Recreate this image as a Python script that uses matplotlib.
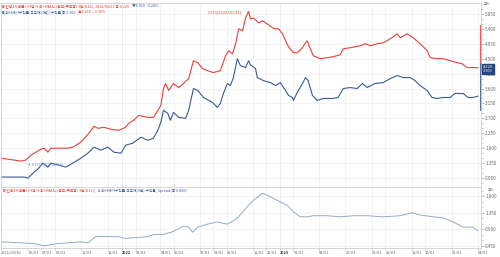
import matplotlib
matplotlib.use("Agg")
import matplotlib.pyplot as plt
import matplotlib.dates as mdates
import matplotlib.transforms as mtrans
from matplotlib.ticker import FixedLocator, AutoMinorLocator
import pandas as pd

plt.rcParams['font.family'] = ['Noto Sans CJK KR', 'DejaVu Sans']

# --- data ---
red_dates = ['2021-03-30', '2021-05-15', '2021-05-26', '2021-06-07', '2021-06-30', '2021-07-07',
             '2021-07-16', '2021-07-23', '2021-08-31', '2021-09-11', '2021-09-30', '2021-10-18',
             '2021-10-30', '2021-11-08', '2021-11-22', '2021-12-08', '2021-12-26', '2022-01-11',
             '2022-01-18', '2022-01-29', '2022-02-10', '2022-03-03', '2022-03-16', '2022-03-26',
             '2022-04-02', '2022-04-08', '2022-04-13', '2022-04-20', '2022-05-01', '2022-05-13',
             '2022-05-24', '2022-06-05', '2022-06-16', '2022-06-26', '2022-07-07', '2022-07-18',
             '2022-08-01', '2022-08-17', '2022-08-29', '2022-09-05', '2022-09-14', '2022-09-21',
             '2022-09-28', '2022-10-07', '2022-10-14', '2022-10-21', '2022-10-25', '2022-11-01',
             '2022-11-13', '2022-11-22', '2022-12-03', '2022-12-15', '2022-12-22', '2022-12-29',
             '2023-01-07', '2023-01-14', '2023-01-21', '2023-02-01', '2023-02-10', '2023-02-22',
             '2023-03-01', '2023-03-05', '2023-03-10', '2023-03-19', '2023-04-04', '2023-04-20',
             '2023-05-04', '2023-05-20', '2023-05-27', '2023-06-12', '2023-07-05', '2023-07-16',
             '2023-07-28', '2023-08-13', '2023-08-27', '2023-09-12', '2023-09-28', '2023-10-05',
             '2023-10-21', '2023-11-04', '2023-11-20', '2023-12-06', '2023-12-13', '2023-12-29',
             '2024-01-12', '2024-01-28', '2024-02-13', '2024-02-24', '2024-03-07', '2024-03-20',
             '2024-04-01']
red_vals = [1.50, 1.41, 1.44, 1.59, 1.77, 1.80, 1.68, 1.80, 1.80, 1.83, 1.98, 2.25,
            2.46, 2.40, 2.43, 2.37, 2.34, 2.43, 2.55, 2.64, 2.79, 2.73, 2.73, 2.94,
            3.09, 3.60, 3.75, 3.54, 3.75, 3.63, 3.75, 3.90, 4.44, 4.38, 4.20, 4.14,
            4.08, 4.14, 4.59, 4.74, 4.65, 4.95, 5.40, 5.34, 5.73, 5.919, 5.70, 5.73,
            5.58, 5.64, 5.55, 5.43, 5.40, 5.40, 5.25, 5.04, 4.86, 4.68, 4.68, 4.83,
            4.98, 5.04, 4.86, 4.59, 4.50, 4.53, 4.56, 4.62, 4.80, 4.83, 4.89, 4.95,
            4.89, 4.95, 4.98, 5.10, 5.25, 5.13, 5.25, 5.13, 4.95, 4.74, 4.53, 4.50,
            4.50, 4.44, 4.38, 4.35, 4.23, 4.23, 4.229]

blue_dates = ['2021-03-30', '2021-04-29', '2021-05-22', '2021-05-31', '2021-06-12', '2021-06-25',
              '2021-07-04', '2021-07-16', '2021-07-23', '2021-08-10', '2021-08-26', '2021-09-11',
              '2021-09-30', '2021-10-16', '2021-10-30', '2021-11-15', '2021-12-01', '2021-12-15',
              '2021-12-31', '2022-01-11', '2022-01-27', '2022-02-15', '2022-03-03', '2022-03-16',
              '2022-03-26', '2022-04-02', '2022-04-08', '2022-04-18', '2022-04-24', '2022-05-01',
              '2022-05-13', '2022-05-29', '2022-06-05', '2022-06-16', '2022-06-26', '2022-07-09',
              '2022-07-30', '2022-08-10', '2022-08-17', '2022-08-24', '2022-09-02', '2022-09-09',
              '2022-09-16', '2022-09-25', '2022-10-02', '2022-10-14', '2022-10-21', '2022-10-25',
              '2022-11-06', '2022-11-10', '2022-11-24', '2022-12-10', '2022-12-22', '2023-01-02',
              '2023-01-14', '2023-01-21', '2023-01-30', '2023-02-01', '2023-02-10', '2023-02-22',
              '2023-03-01', '2023-03-07', '2023-03-17', '2023-03-28', '2023-04-11', '2023-05-02',
              '2023-05-15', '2023-05-27', '2023-06-12', '2023-06-28', '2023-07-10', '2023-07-21',
              '2023-08-08', '2023-08-27', '2023-09-12', '2023-09-28', '2023-10-12', '2023-10-28',
              '2023-11-08', '2023-11-20', '2023-12-06', '2023-12-17', '2023-12-29', '2024-01-12',
              '2024-01-28', '2024-02-08', '2024-02-27', '2024-03-09', '2024-03-20', '2024-04-01']
blue_vals = [0.93, 0.93, 0.93, 0.90, 1.05, 1.20, 1.35, 1.23, 1.35, 1.29, 1.23, 1.35,
             1.50, 1.65, 1.83, 1.74, 1.83, 1.68, 1.65, 1.89, 1.95, 2.13, 2.04, 2.10,
             2.34, 2.58, 2.94, 2.85, 2.64, 2.88, 2.73, 2.70, 2.94, 3.60, 3.54, 3.33,
             3.18, 3.03, 3.15, 3.45, 3.75, 3.69, 3.93, 4.50, 4.29, 4.23, 4.44, 4.32,
             4.20, 3.93, 3.84, 3.78, 3.69, 3.78, 3.54, 3.39, 3.33, 3.24, 3.48, 3.75,
             3.93, 3.84, 3.39, 3.24, 3.30, 3.30, 3.33, 3.60, 3.63, 3.60, 3.75, 3.63,
             3.75, 3.78, 3.90, 3.99, 3.93, 3.93, 3.84, 3.69, 3.54, 3.33, 3.30, 3.33,
             3.33, 3.45, 3.45, 3.33, 3.33, 3.369]

spread_dates = ['2021-03-30', '2021-05-15', '2021-06-14', '2021-07-07', '2021-08-08', '2021-08-31',
                '2021-09-30', '2021-10-16', '2021-11-03', '2021-12-01', '2021-12-24', '2022-01-11',
                '2022-01-29', '2022-03-03', '2022-03-16', '2022-04-08', '2022-05-01', '2022-05-22',
                '2022-06-03', '2022-06-14', '2022-06-26', '2022-07-18', '2022-08-10', '2022-09-02',
                '2022-09-16', '2022-09-28', '2022-10-18', '2022-11-01', '2022-11-22', '2022-12-03',
                '2022-12-26', '2023-01-18', '2023-02-01', '2023-02-17', '2023-03-05', '2023-03-19',
                '2023-04-20', '2023-05-20', '2023-06-19', '2023-07-21', '2023-08-27', '2023-10-05',
                '2023-11-01', '2023-11-20', '2023-12-20', '2024-01-12', '2024-02-04', '2024-02-27',
                '2024-03-20', '2024-04-01']
spread_vals = [0.56, 0.53, 0.51, 0.45, 0.51, 0.53, 0.56, 0.53, 0.70, 0.70, 0.70, 0.65,
               0.67, 0.70, 0.76, 0.76, 0.84, 0.98, 0.98, 0.82, 0.96, 1.04, 1.10, 1.04,
               1.13, 1.24, 1.52, 1.69, 1.88, 1.83, 1.69, 1.55, 1.38, 1.24, 1.24, 1.27,
               1.27, 1.24, 1.27, 1.27, 1.24, 1.27, 1.35, 1.29, 1.24, 1.21, 1.10, 0.96,
               0.96, 0.86]

tick_dates = ['2021-03-30', '2021-06-01', '2021-07-01', '2021-08-02', '2021-10-01', '2021-12-01',
              '2022-01-03', '2022-02-03', '2022-04-01', '2022-05-02', '2022-07-01', '2022-08-01',
              '2022-09-01', '2022-11-01', '2022-12-01', '2023-01-02', '2023-02-01', '2023-04-01',
              '2023-06-01', '2023-08-01', '2023-09-01', '2023-11-01', '2023-12-01', '2024-02-01',
              '2024-04-01']
tick_labels = ['2021/03/30', '06/01', '07/01', '08/02', '10/01', '12/01', '2022', '02/03',
               '04/01', '05/02', '07/01', '08/01', '09/01', '11/01', '12/01', '2023', '02/01',
               '04/01', '06/01', '08/01', '09/01', '11/01', '12/01', '02/01', '04/01']

top_yticks = [0.9, 1.35, 1.8, 2.25, 2.7, 3.15, 3.6, 4.05, 4.5, 4.95, 5.4, 5.85]
bot_yticks = [0.45, 0.9, 1.35, 1.8]

RED = '#e5403a'
BLUE = '#3b5998'
SPREAD = '#98a8cc'
GRID = '#efefef'
TXT = '#666666'

red_x = pd.to_datetime(red_dates)
blue_x = pd.to_datetime(blue_dates)
spread_x = pd.to_datetime(spread_dates)
tick_x = pd.to_datetime(tick_dates)

fig = plt.figure(figsize=(5, 2.57), dpi=100)
ax1 = fig.add_axes([0.002, 0.2724, 0.96, 0.716])
ax2 = fig.add_axes([0.002, 0.035, 0.96, 0.237], sharex=ax1)

ax1.plot(red_x, red_vals, color=RED, lw=0.8)
ax1.plot(blue_x, blue_vals, color=BLUE, lw=0.8)
ax2.plot(spread_x, spread_vals, color=SPREAD, lw=0.7)

ax1.set_xlim(pd.Timestamp('2021-03-30'), pd.Timestamp('2024-04-08'))
ax1.set_ylim(0.63, 6.18)
ax2.set_ylim(0.39, 2.05)

for ax, yt in ((ax1, top_yticks), (ax2, bot_yticks)):
    ax.yaxis.tick_right()
    ax.set_yticks(yt)
    ax.set_yticklabels(['%.3f' % v for v in yt])
    ax.yaxis.set_minor_locator(AutoMinorLocator(3))
    ax.tick_params(axis='y', which='major', labelsize=3.3, length=2, width=0.4,
                   colors='#888888', labelcolor=TXT, pad=1)
    ax.tick_params(axis='y', which='minor', length=1.2, width=0.4, colors='#aaaaaa')
    ax.xaxis.set_major_locator(FixedLocator(mdates.date2num(tick_x)))
    ax.grid(True, which='major', color=GRID, lw=0.5)
    for s in ax.spines.values():
        s.set_color('#cfcfcf')
        s.set_linewidth(0.6)
    # year boundaries a bit darker
    for d in ('2022-01-03', '2023-01-02'):
        ax.axvline(pd.Timestamp(d), color='#e2e2e2', lw=0.6, zorder=0)

ax1.tick_params(axis='x', length=0, labelbottom=False)
ax2.set_xticklabels(tick_labels)
ax2.tick_params(axis='x', labelsize=2.8, length=1.5, width=0.4, colors='#999999',
                labelcolor=TXT, pad=0.5)
for lab in ax2.get_xticklabels():
    lab.set_horizontalalignment('left')
    if lab.get_text() in ('2022', '2023'):
        lab.set_fontweight('bold')
        lab.set_color('#333333')

# colored range marks on the right axis of the top panel
trans = mtrans.blended_transform_factory(ax1.transAxes, ax1.transData)
ax1.plot([1, 1], [5.5, 4.33], color=RED, lw=1.2, transform=trans, clip_on=False)
ax1.plot([1, 1], [4.33, 2.95], color=BLUE, lw=1.2, transform=trans, clip_on=False)

# current value box
ax1.text(1.004, 4.19, '4.229\n3.369', transform=trans, fontsize=2.8, color='white',
         va='center', ha='left', linespacing=0.9,
         bbox=dict(boxstyle='square,pad=0.25', fc='#27457f', ec='#27457f'))

# max / min notes
ax1.annotate('5.919(2022/10/21)', xy=(pd.Timestamp('2022-10-21'), 5.919),
             xytext=(pd.Timestamp('2022-10-05'), 5.89), fontsize=2.9, color=RED,
             ha='right', va='center',
             arrowprops=dict(arrowstyle='-', color=RED, lw=0.4))
ax1.text(pd.Timestamp('2021-05-26'), 1.32, '—1.617(2021/08/06)', fontsize=2.9,
         color='#6f86b8', ha='left', va='center')


def text_row(pieces, x, y, size=2.7):
    # lay out coloured pieces one after the other
    r = fig.canvas.get_renderer()
    for s, c in pieces:
        t = fig.text(x, y, s, fontsize=size, color=c, va='center', ha='left')
        x += t.get_window_extent(r).width / fig.bbox.width + 0.006


text_row([('▮[민평3사평균시가평가-회사채AA+(공모/무보증) 3년(D11)] 2024/04/01 종:4.229', RED),
          ('▼0.010  -0.24%', BLUE)], 0.004, 0.976)
text_row([('▮[회사채가수익률-국고채(3년)] 수익률 종:3.369', BLUE),
          ('▲0.010  +0.30%', RED)], 0.004, 0.952)
text_row([('▮[민평3사평균시가평가-회사채AA+(공모/무보증) 3년(D11)]', RED),
          ('& 회사채가수익률-국고채(3년) 수익률_Spread(종:0.860)', BLUE)], 0.006, 0.258)

fig.text(0.968, 0.985, '표시', fontsize=2.6, color='#777777', va='center', ha='left')
fig.text(0.975, 0.262, '표시', fontsize=2.6, color='#777777', va='center', ha='left')

fig.savefig('out.png', dpi=100, facecolor='white')
